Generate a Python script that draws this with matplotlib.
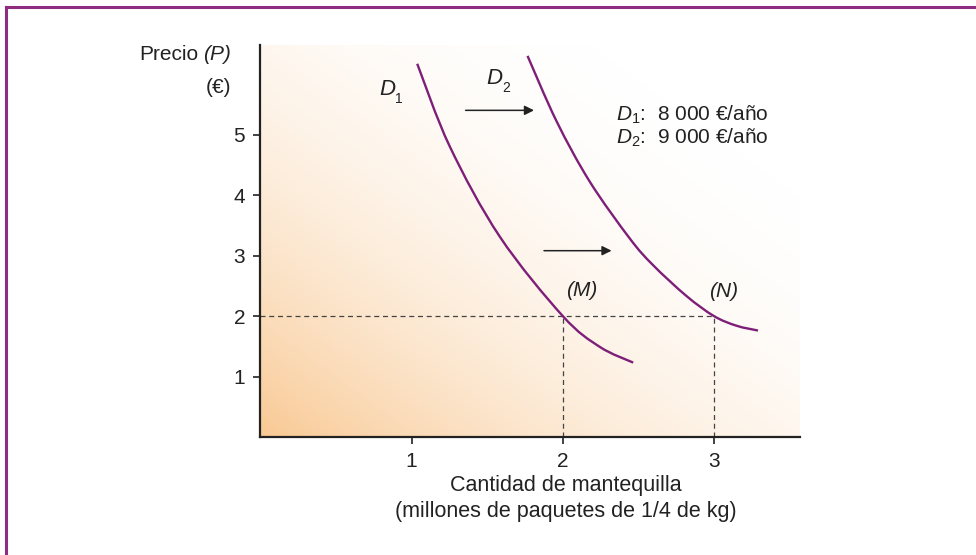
import numpy as np
import matplotlib
matplotlib.use('Agg')
import matplotlib.pyplot as plt
from matplotlib.colors import LinearSegmentedColormap
from matplotlib.path import Path
from matplotlib.patches import PathPatch

plt.rcParams['font.family'] = ['Liberation Sans', 'DejaVu Sans']
plt.rcParams['mathtext.fontset'] = 'custom'
plt.rcParams['mathtext.it'] = 'Liberation Sans:italic'
plt.rcParams['mathtext.rm'] = 'Liberation Sans'

# Demand curves (quantity, price)
d1_q = [1.037, 1.253, 1.584, 2.0, 2.245, 2.466]
d1_p = [6.17, 4.80, 3.31, 2.0, 1.49, 1.23]
d2_q = [1.767, 1.959, 2.179, 2.444, 2.598, 2.819, 3.0, 3.149, 3.292]
d2_p = [6.30, 5.22, 4.22, 3.28, 2.84, 2.33, 2.0, 1.84, 1.76]

x_ticks = [1, 2, 3]
y_ticks = [1, 2, 3, 4, 5]
eq_price = 2
eq_q = [2, 3]
eq_names = ['(M)', '(N)']

purple = '#7d1f78'
ink = '#222222'
fs = 15


def smooth_path(xs, ys):
    # cubic bezier pieces through the read points (catmull-rom tangents)
    pts = np.column_stack([xs, ys])
    verts = [pts[0]]
    codes = [Path.MOVETO]
    n = len(pts)
    for i in range(n - 1):
        p0 = pts[max(i - 1, 0)]
        p1 = pts[i]
        p2 = pts[i + 1]
        p3 = pts[min(i + 2, n - 1)]
        c1 = p1 + (p2 - p0) / 6
        c2 = p2 - (p3 - p1) / 6
        verts += [c1, c2, p2]
        codes += [Path.CURVE4] * 3
    return Path(verts, codes)


fig = plt.figure(figsize=(9.76, 5.55), dpi=100)

# purple frame, top and left
fig.add_artist(plt.Line2D([0.006, 1.0], [0.988, 0.988], color='#8e2c80', lw=2.2))
fig.add_artist(plt.Line2D([0.006, 0.006], [0.0, 0.988], color='#8e2c80', lw=2.2))

ax = fig.add_axes([0.2669, 0.2126, 0.5528, 0.7063])
xmax, ymax = 3.57, 6.48
ax.set_xlim(0, xmax)
ax.set_ylim(0, ymax)

# background gradient, orange at the origin fading to white
gx, gy = np.meshgrid(np.linspace(0, 1, 300), np.linspace(0, 1, 300))
t = np.clip((gx + gy) / 1.75, 0, 1)
t = 1 - (1 - t) ** 2.2
cmap = LinearSegmentedColormap.from_list('bg', ['#f9c994', '#ffffff'])
ax.imshow(t, cmap=cmap, extent=[0, xmax, 0, ymax], origin='lower', aspect='auto',
          vmin=0, vmax=1, zorder=0)

for qs, ps in [(d1_q, d1_p), (d2_q, d2_p)]:
    ax.add_patch(PathPatch(smooth_path(qs, ps), facecolor='none', edgecolor=purple,
                           lw=1.7, zorder=3, capstyle='butt'))

# dashed guides
ax.plot([0, max(eq_q)], [eq_price, eq_price], ls=(0, (4, 3)), color='#444444', lw=0.9, zorder=2)
for q in eq_q:
    ax.plot([q, q], [0, eq_price], ls=(0, (4, 3)), color='#444444', lw=0.9, zorder=2)

ax.text(2.124, 2.43, eq_names[0], fontsize=fs, style='italic', ha='center', va='center', color=ink)
ax.text(3.065, 2.40, eq_names[1], fontsize=fs, style='italic', ha='center', va='center', color=ink)

# shift arrows
for x0, x1, y in [(1.357, 1.81, 5.40), (1.876, 2.323, 3.08)]:
    ax.annotate('', xy=(x1, y), xytext=(x0, y),
                arrowprops=dict(arrowstyle='-|>', color=ink, lw=1.1,
                                mutation_scale=14, shrinkA=0, shrinkB=0))

ax.text(0.84, 5.74, 'D', fontsize=fs + 1, style='italic', ha='center', va='center', color=ink)
ax.text(0.918, 5.58, '1', fontsize=10, ha='center', va='center', color=ink)
ax.text(1.545, 5.93, 'D', fontsize=fs + 1, style='italic', ha='center', va='center', color=ink)
ax.text(1.623, 5.77, '2', fontsize=10, ha='center', va='center', color=ink)

ax.text(2.35, 5.32, r'$D_1$:  8 000 €/año', fontsize=fs, ha='left', va='center', color=ink)
ax.text(2.35, 4.94, r'$D_2$:  9 000 €/año', fontsize=fs, ha='left', va='center', color=ink)

ax.set_xticks(x_ticks)
ax.set_yticks(y_ticks)
ax.tick_params(axis='both', length=5, width=1.2, labelsize=fs, colors=ink, pad=6)
for s in ['top', 'right']:
    ax.spines[s].set_visible(False)
for s in ['left', 'bottom']:
    ax.spines[s].set_linewidth(1.6)
    ax.spines[s].set_color(ink)

fig.text(198 / 976, 1 - 55 / 555, 'Precio', fontsize=fs, ha='right', va='center', color=ink)
fig.text(231 / 976, 1 - 55 / 555, '(P)', fontsize=fs, ha='right', va='center', color=ink, style='italic')
fig.text(231 / 976, 1 - 88 / 555, '(€)', fontsize=fs, ha='right', va='center', color=ink)

fig.text(566 / 976, 1 - 486 / 555, 'Cantidad de mantequilla', fontsize=fs + 0.5, ha='center', va='center', color=ink)
fig.text(566 / 976, 1 - 511 / 555, '(millones de paquetes de 1/4 de kg)', fontsize=fs + 0.5, ha='center', va='center', color=ink)

fig.savefig('out.png', dpi=100, facecolor='white')
